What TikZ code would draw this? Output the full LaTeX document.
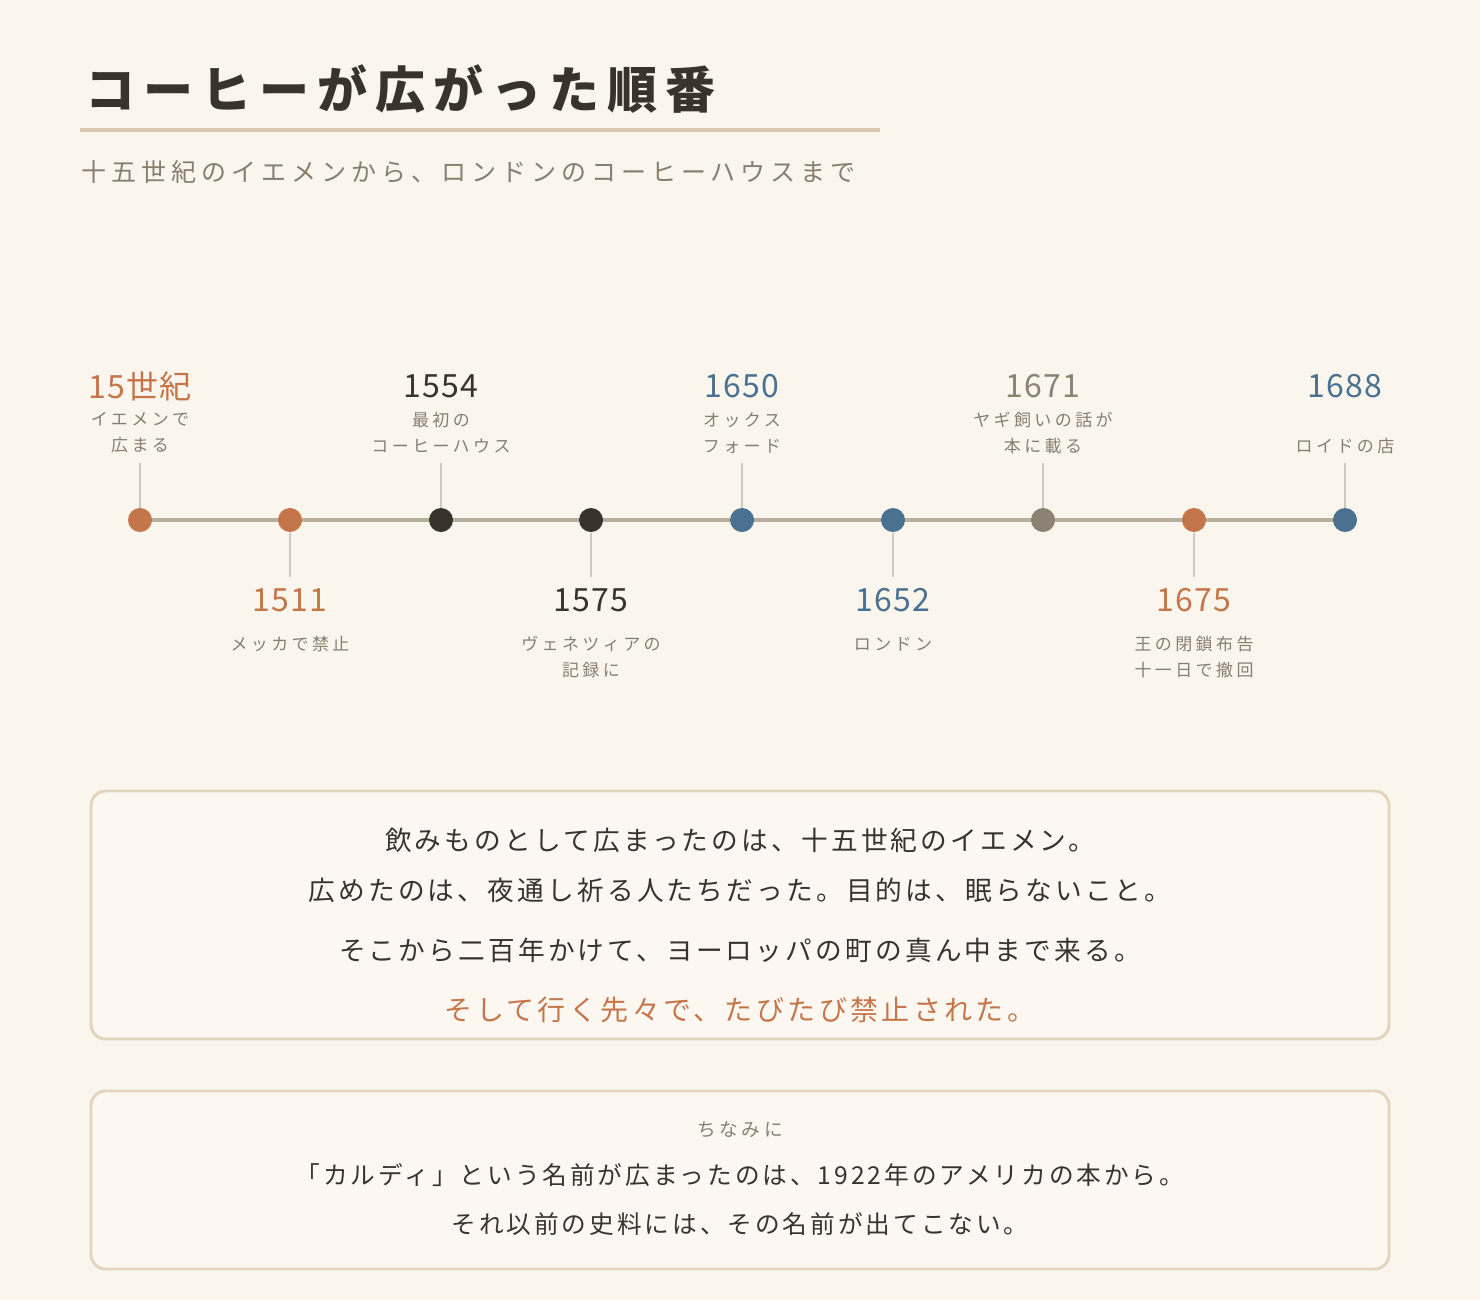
\documentclass[tikz,border=0pt]{standalone}
\usepackage{fontspec}
\newfontfamily\jptitle[LetterSpace=16]{Noto Sans CJK JP}
\newfontfamily\jptext[LetterSpace=20]{Noto Sans CJK JP}
\newfontfamily\jpbody[LetterSpace=12]{Noto Sans CJK JP}
\newfontfamily\jpyear[LetterSpace=4]{Noto Sans CJK JP}

\definecolor{paper}{RGB}{250,246,238}
\definecolor{boxfill}{RGB}{252,248,241}
\definecolor{ink}{RGB}{58,51,44}
\definecolor{muted}{RGB}{136,126,112}
\definecolor{rust}{RGB}{196,118,74}
\definecolor{slate}{RGB}{74,113,143}
\definecolor{stone}{RGB}{140,130,116}
\definecolor{rail}{RGB}{185,174,158}
\definecolor{tickgray}{RGB}{207,200,190}
\definecolor{sand}{RGB}{216,201,176}
\definecolor{boxline}{RGB}{227,213,189}

\tikzset{every picture/.style={line width=0.75pt}}
\tikzset{
  dot/.style={circle,inner sep=0pt,minimum size=18pt},
  yearlbl/.style={inner sep=0.75pt,font=\jpyear\fontsize{24}{28}\selectfont},
  desclbl/.style={inner sep=0.75pt,align=center,text=muted,font=\jptext\fontsize{12.75}{19.5}\selectfont},
  ticker/.style={draw=tickgray,line width=1.1pt},
  notebox/.style={draw=boxline,line width=2.2pt,fill=boxfill,rounded corners=11pt},
  bodyline/.style={inner sep=0.75pt,text=ink,font=\jpbody\fontsize{20}{24}\selectfont},
}

\begin{document}
\begin{tikzpicture}[x=0.75pt,y=0.75pt,yscale=-1,xscale=1]
%set diagram left start at 0, and has height of 1300
\fill [paper] (0,0) rectangle (1480,1300);

% Title
\node (title) at (84,89) [anchor=west,inner sep=0.75pt,text=ink,font=\jptitle\bfseries\fontsize{37.5}{42}\selectfont] {コーヒーが広がった順番};
\coordinate (u1) at (80,130);
\coordinate (u2) at (880,130);
\draw [sand,line width=3.6pt] (u1) -- (u2);
% Subtitle
\node (subtitle) at (80,172) [anchor=west,inner sep=0.75pt,text=muted,font=\jptext\fontsize{18.75}{22}\selectfont] {十五世紀のイエメンから、ロンドンのコーヒーハウスまで};

% Timeline rail
\coordinate (p1) at (140,520);
\coordinate (p2) at (290,520);
\coordinate (p3) at (441,520);
\coordinate (p4) at (591,520);
\coordinate (p5) at (742,520);
\coordinate (p6) at (893,520);
\coordinate (p7) at (1043,520);
\coordinate (p8) at (1194,520);
\coordinate (p9) at (1345,520);
\draw [rail,line width=3pt] (p1) -- (p2) -- (p3) -- (p4) -- (p5) -- (p6) -- (p7) -- (p8) -- (p9);

% Dots
\node (d1) at (p1) [dot,fill=rust] {};
\node (d2) at (p2) [dot,fill=rust] {};
\node (d3) at (p3) [dot,fill=ink] {};
\node (d4) at (p4) [dot,fill=ink] {};
\node (d5) at (p5) [dot,fill=slate] {};
\node (d6) at (p6) [dot,fill=slate] {};
\node (d7) at (p7) [dot,fill=stone] {};
\node (d8) at (p8) [dot,fill=rust] {};
\node (d9) at (p9) [dot,fill=slate] {};

% Ticks
\coordinate (t1) at (140,463);
\coordinate (t2) at (290,577);
\coordinate (t3) at (441,463);
\coordinate (t4) at (591,577);
\coordinate (t5) at (742,463);
\coordinate (t6) at (893,577);
\coordinate (t7) at (1043,463);
\coordinate (t8) at (1194,577);
\coordinate (t9) at (1345,463);
\draw [ticker] (d1) -- (t1);
\draw [ticker] (d2) -- (t2);
\draw [ticker] (d3) -- (t3);
\draw [ticker] (d4) -- (t4);
\draw [ticker] (d5) -- (t5);
\draw [ticker] (d6) -- (t6);
\draw [ticker] (d7) -- (t7);
\draw [ticker] (d8) -- (t8);
\draw [ticker] (d9) -- (t9);

% Years above
\node (y1) at (140,386) [yearlbl,text=rust] {15世紀};
\node (y3) at (441,386) [yearlbl,text=ink] {1554};
\node (y5) at (742,386) [yearlbl,text=slate] {1650};
\node (y7) at (1043,386) [yearlbl,text=stone] {1671};
\node (y9) at (1345,386) [yearlbl,text=slate] {1688};
% Years below
\node (y2) at (290,600) [yearlbl,text=rust] {1511};
\node (y4) at (591,600) [yearlbl,text=ink] {1575};
\node (y6) at (893,600) [yearlbl,text=slate] {1652};
\node (y8) at (1194,600) [yearlbl,text=rust] {1675};

% Text Node
\node (e1) at (140,433) [desclbl] {イエメンで\\広まる};
\node (e3) at (441,433) [desclbl] {最初の\\コーヒーハウス};
\node (e5) at (742,433) [desclbl] {オックス\\フォード};
\node (e7) at (1043,433) [desclbl] {ヤギ飼いの話が\\本に載る};
\node (e9) at (1345,446) [desclbl] {ロイドの店};
\node (e2) at (290,644) [desclbl] {メッカで禁止};
\node (e4) at (591,657) [desclbl] {ヴェネツィアの\\記録に};
\node (e6) at (893,644) [desclbl] {ロンドン};
\node (e8) at (1194,657) [desclbl] {王の閉鎖布告\\十一日で撤回};

% Summary box
\draw [notebox] (91,791) rectangle (1389,1039);
\node (s1) at (740,840) [bodyline] {飲みものとして広まったのは、十五世紀のイエメン。};
\node (s2) at (740,890) [bodyline] {広めたのは、夜通し祈る人たちだった。目的は、眠らないこと。};
\node (s3) at (740,950) [bodyline] {そこから二百年かけて、ヨーロッパの町の真ん中まで来る。};
\node (s4) at (740,1010) [bodyline,text=rust,font=\jpbody\fontsize{21}{25}\selectfont] {そして行く先々で、たびたび禁止された。};

% Aside box
\draw [notebox] (91,1091) rectangle (1389,1269);
\node (n1) at (740,1130) [inner sep=0.75pt,text=muted,font=\jptext\fontsize{14}{17}\selectfont] {ちなみに};
\node (n2) at (740,1175) [bodyline,font=\jpbody\fontsize{18.5}{22}\selectfont] {「カルディ」という名前が広まったのは、1922年のアメリカの本から。};
\node (n3) at (740,1224) [bodyline,font=\jpbody\fontsize{18.5}{22}\selectfont] {それ以前の史料には、その名前が出てこない。};
\end{tikzpicture}
\end{document}
